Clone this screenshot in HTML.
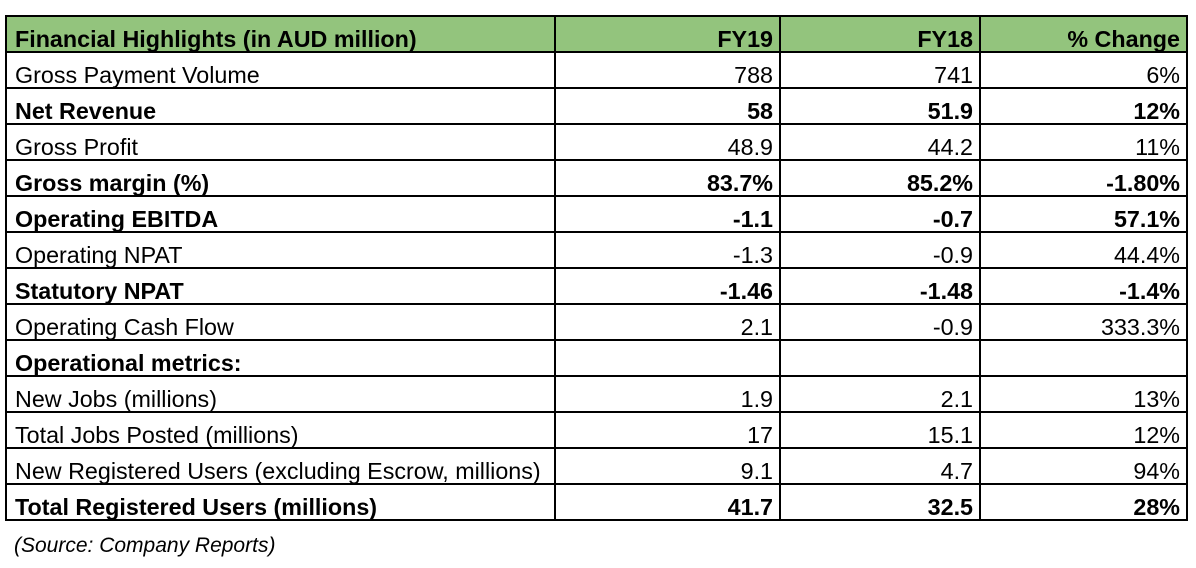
<!DOCTYPE html>
<html><head><meta charset="utf-8"><style>
html,body{margin:0;padding:0;background:#fff;width:1196px;height:568px;overflow:hidden}
table{position:absolute;left:5px;top:15px;border-collapse:collapse;table-layout:fixed;font-family:"Liberation Sans",Arial,sans-serif;font-size:23.3px;color:#000}
td{border:2px solid #000;height:34px;padding:0 6px 0 8px;vertical-align:bottom;line-height:23px;white-space:nowrap;overflow:hidden;box-sizing:border-box}
tr{height:36px}
td.r{text-align:right;padding-right:6px}
tr.h td{background:#93c47d;font-weight:bold}
tr.b td{font-weight:bold}
.src{position:absolute;left:14px;top:534px;font-family:"Liberation Sans",Arial,sans-serif;font-style:italic;font-size:21px;color:#000}
</style></head><body>
<table>
<colgroup><col style="width:549px"><col style="width:225px"><col style="width:200px"><col style="width:207px"></colgroup>
<tr class="h"><td>Financial Highlights (in AUD million)</td><td class="r">FY19</td><td class="r">FY18</td><td class="r">% Change</td></tr>
<tr><td>Gross Payment Volume</td><td class="r">788</td><td class="r">741</td><td class="r">6%</td></tr>
<tr class="b"><td>Net Revenue</td><td class="r">58</td><td class="r">51.9</td><td class="r">12%</td></tr>
<tr><td>Gross Profit</td><td class="r">48.9</td><td class="r">44.2</td><td class="r">11%</td></tr>
<tr class="b"><td>Gross margin (%)</td><td class="r">83.7%</td><td class="r">85.2%</td><td class="r">-1.80%</td></tr>
<tr class="b"><td>Operating EBITDA</td><td class="r">-1.1</td><td class="r">-0.7</td><td class="r">57.1%</td></tr>
<tr><td>Operating NPAT</td><td class="r">-1.3</td><td class="r">-0.9</td><td class="r">44.4%</td></tr>
<tr class="b"><td>Statutory NPAT</td><td class="r">-1.46</td><td class="r">-1.48</td><td class="r">-1.4%</td></tr>
<tr><td>Operating Cash Flow</td><td class="r">2.1</td><td class="r">-0.9</td><td class="r">333.3%</td></tr>
<tr class="b"><td>Operational metrics:</td><td class="r"></td><td class="r"></td><td class="r"></td></tr>
<tr><td>New Jobs (millions)</td><td class="r">1.9</td><td class="r">2.1</td><td class="r">13%</td></tr>
<tr><td>Total Jobs Posted (millions)</td><td class="r">17</td><td class="r">15.1</td><td class="r">12%</td></tr>
<tr><td>New Registered Users (excluding Escrow, millions)</td><td class="r">9.1</td><td class="r">4.7</td><td class="r">94%</td></tr>
<tr class="b"><td>Total Registered Users (millions)</td><td class="r">41.7</td><td class="r">32.5</td><td class="r">28%</td></tr>
</table>
<div class="src">(Source: Company Reports)</div>
</body></html>
